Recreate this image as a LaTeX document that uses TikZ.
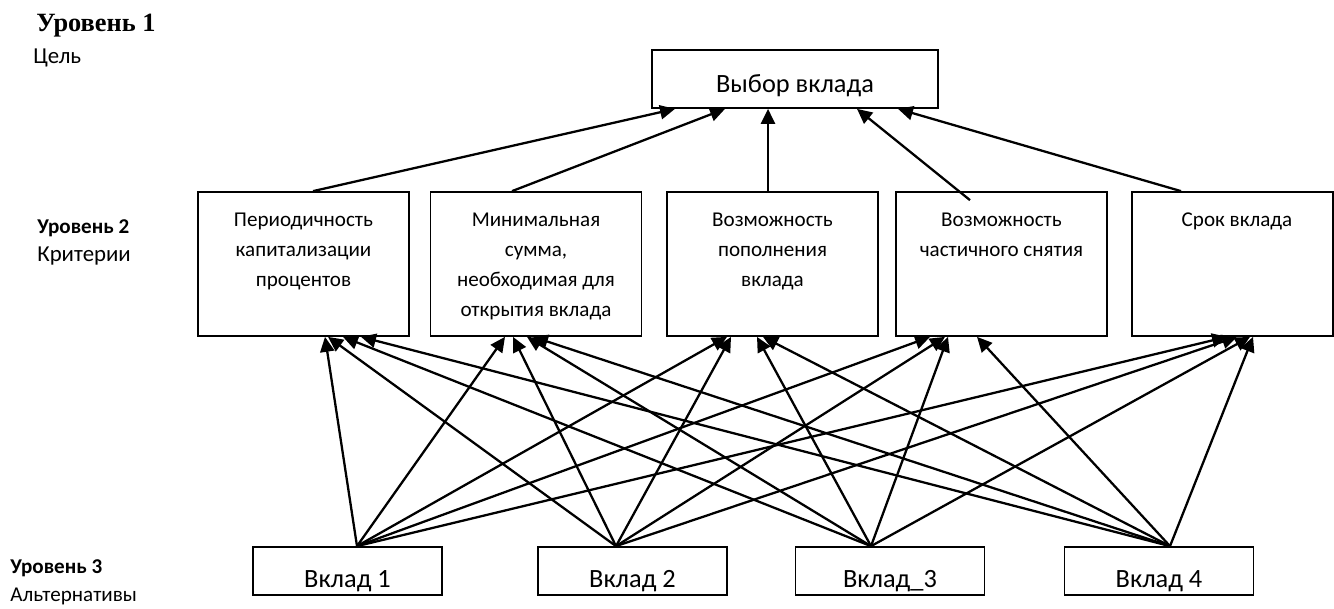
\documentclass[tikz,border=0pt]{standalone}
\usepackage{fontspec}
\setmainfont{Carlito}
\newfontfamily\timesfont{Liberation Serif}
\usetikzlibrary{calc,arrows.meta}
\tikzstyle{connector} = [line width=1.3pt, -{Triangle[length=8.5pt,width=8pt]}]
\tikzstyle{boxline} = [draw, line width=1pt, rectangle, inner sep=0pt]
\tikzstyle{goalnode} = [boxline, minimum width=5.72cm, minimum height=1.16cm, font=\fontsize{15}{18}\selectfont, text height=18pt, text depth=3pt]
\tikzstyle{critnode} = [boxline, minimum width=4.22cm, minimum height=2.88cm]
\tikzstyle{crittext} = [anchor=north, align=center, inner sep=0pt, font=\fontsize{12}{17.2}\selectfont]
\tikzstyle{altnode} = [boxline, minimum width=3.78cm, minimum height=0.96cm, font=\fontsize{15}{18}\selectfont, text height=21pt, text depth=2pt]
\tikzstyle{leveltext} = [anchor=west, inner sep=0pt, font=\fontsize{12}{14}\selectfont]

\begin{document}
\begin{tikzpicture}[x=0.02cm, y=-0.02cm]
                \useasboundingbox (0,0) rectangle (1334,608);

                % level labels
                \node (l1) [leveltext, font=\timesfont\bfseries\fontsize{15}{17}\selectfont] at (36,26) {Уровень 1};
                \node (l1n) [leveltext, font=\fontsize{13}{15}\selectfont] at (33,58) {Цель};
                \node (l2) [leveltext, font=\bfseries\fontsize{12}{14}\selectfont] at (37,228) {Уровень 2};
                \node (l2n) [leveltext, font=\fontsize{13}{15}\selectfont] at (37,256) {Критерии};
                \node (l3) [leveltext, font=\bfseries\fontsize{12}{14}\selectfont] at (10,568) {Уровень 3};
                \node (l3n) [leveltext] at (10,596) {Альтернативы};

                \node (goal) [goalnode] at (795,79) {Выбор вклада};

                \node (c1) [critnode] at (303.5,264) {};
                \node (c2) [critnode] at (536,264) {};
                \node (c3) [critnode] at (772.5,264) {};
                \node (c4) [critnode] at (1001.5,264) {};
                \node (c5) [critnode, minimum width=4.02cm] at (1232.5,264) {};

                \node (t1) [crittext] at ($(c1.north)+(0,21)$) {Периодичность\\капитализации\\процентов};
                \node (t2) [crittext] at ($(c2.north)+(0,21)$) {Минимальная\\сумма,\\необходимая для\\открытия вклада};
                \node (t3) [crittext] at ($(c3.north)+(0,21)$) {Возможность\\пополнения\\вклада};
                \node (t4) [crittext] at ($(c4.north)+(0,21)$) {Возможность\\частичного снятия};
                \node (t5) [crittext] at ($(c5.north)+(4.5,21)$) {Срок вклада};

                \node (v1) [altnode] at (347.5,571) {Вклад 1};
                \node (v2) [altnode] at (632.5,571) {Вклад 2};
                \node (v3) [altnode] at (890,571) {Вклад\_3};
                \node (v4) [altnode] at (1159,571) {Вклад 4};

                \coordinate (s1) at ($(v1.north)+(9.5,0)$);
                \coordinate (s2) at ($(v2.north)+(-16.5,0)$);
                \coordinate (s3) at ($(v3.north)+(-19,0)$);
                \coordinate (s4) at ($(v4.north)+(11,0)$);

                % criteria to goal
                \draw [connector] ($(c1.north)+(9.5,0)$) -- ($(goal.south)+(-120,0)$);
                \draw [connector] ($(c2.north)+(-24,0)$) -- ($(goal.south)+(-70,0)$);
                \draw [connector] ($(c3.north)+(-4.5,0)$) -- ($(goal.south)+(-27,0)$);
                \draw [connector] ($(c4.north)+(-31.5,9)$) -- ($(goal.south)+(62,0)$);
                \draw [connector] ($(c5.north)+(-51.5,0)$) -- ($(goal.south)+(103,0)$);

                % alternatives to criteria
                \draw [connector] (s1) -- ($(c1.south)+(21.5,0)$);
                \draw [connector] (s2) -- ($(c1.south)+(24.5,0)$);
                \draw [connector] (s3) -- ($(c1.south)+(39.5,0)$);
                \draw [connector] (s4) -- ($(c1.south)+(57.5,0)$);

                \draw [connector] (s1) -- ($(c2.south)+(-31,0)$);
                \draw [connector] (s2) -- ($(c2.south)+(-23,0)$);
                \draw [connector] (s3) -- ($(c2.south)+(-9,0)$);
                \draw [connector] (s4) -- ($(c2.south)+(-3,0)$);

                \draw [connector] (s1) -- ($(c3.south)+(-45.5,0)$);
                \draw [connector] (s2) -- ($(c3.south)+(-41.5,0)$);
                \draw [connector] (s3) -- ($(c3.south)+(-15.5,0)$);
                \draw [connector] (s4) -- ($(c3.south)+(-9.5,0)$);

                \draw [connector] (s1) -- ($(c4.south)+(-71.5,0)$);
                \draw [connector] (s2) -- ($(c4.south)+(-56.5,0)$);
                \draw [connector] (s3) -- ($(c4.south)+(-53.5,0)$);
                \draw [connector] (s4) -- ($(c4.south)+(-24.5,0)$);

                \draw [connector] (s1) -- ($(c5.south)+(-5.5,0)$);
                \draw [connector] (s2) -- ($(c5.south)+(4.5,0)$);
                \draw [connector] (s3) -- ($(c5.south)+(17.5,0)$);
                \draw [connector] (s4) -- ($(c5.south)+(20.5,0)$);
            \end{tikzpicture}
\end{document}
